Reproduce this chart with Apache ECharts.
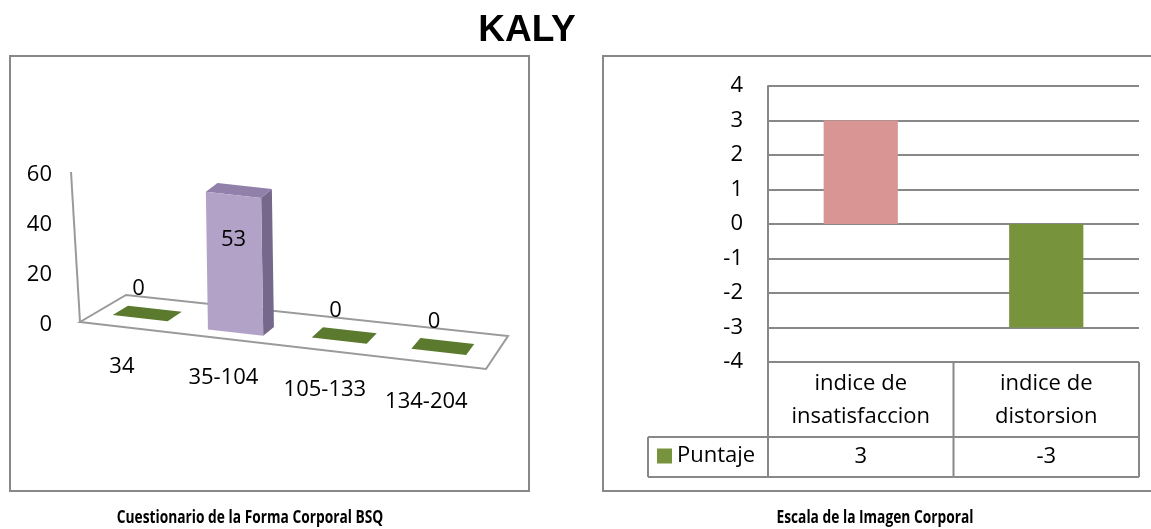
<!DOCTYPE html>
<html>
<head>
<meta charset="utf-8">
<script src="https://cdn.jsdelivr.net/npm/echarts@6/dist/echarts.min.js"></script>
<style>
html,body{margin:0;padding:0;background:#fff;}
#c{width:1151px;height:529px;}
</style>
</head>
<body>
<div id="c"></div>
<script>
// ---- data ----
const titleText = 'KALY';
const catsL = ['34', '35-104', '105-133', '134-204'];
const valsL = [0, 53, 0, 0];
const ticksL = [0, 20, 40, 60];
const captionL = 'Cuestionario de la Forma Corporal BSQ';

const catsR = ['indice de\ninsatisfaccion', 'indice de\ndistorsion'];
const valsR = [3, -3];
const ticksR = [-4, -3, -2, -1, 0, 1, 2, 3, 4];
const seriesR = 'Puntaje';
const captionR = 'Escala de la Imagen Corporal';

// ---- styles ----
const FONT = '"Open Sans", "Noto Sans", sans-serif';
const GRAY = '#888888';
const PURPLE_FRONT = '#B3A2C7', PURPLE_SIDE = '#75688A', PURPLE_TOP = '#9080AA';
const GREEN_FLAT = '#5B7A2E';
const PINK = '#D99594', GREEN = '#77933C';

const chart = echarts.init(document.getElementById('c'), null, {renderer: 'canvas'});

// floor projection for the pseudo-3D panel (layout relative to grid rect)
function floorPt(rect, u, d) {
  const x = rect.x, b = rect.y + rect.height, W = rect.width;
  const fx = x + W * u, fy = b - 3 + 0.1158 * W * u;
  const bx = x + 0.1133 * W + 0.9409 * W * u, by = b - 30 + 0.101 * W * u;
  return [fx + (bx - fx) * d, fy + (by - fy) * d];
}
function up(p, h, lean) { return [p[0] - h * lean, p[1] - h]; }

function renderDecor(params, api) {
  const rect = params.coordSys;
  const p00 = floorPt(rect, 0, 0), p10 = floorPt(rect, 1, 0), p11 = floorPt(rect, 1, 1), p01 = floorPt(rect, 0, 1);
  const hAxis = api.size([0, ticksL[ticksL.length - 1]])[1];
  const top = up(p00, hAxis, 0.06);
  return {
    type: 'group',
    children: [
      {type: 'polygon', shape: {points: [p00, p10, p11, p01]}, style: {fill: 'none', stroke: '#9a9a9a', lineWidth: 2}},
      {type: 'line', shape: {x1: p00[0], y1: p00[1], x2: top[0], y2: top[1]}, style: {stroke: '#9a9a9a', lineWidth: 2}}
    ]
  };
}

function renderBars3D(params, api) {
  const rect = params.coordSys;
  const i = api.value(0), v = api.value(1);
  const uc = (api.coord([i, 0])[0] - rect.x) / rect.width - 0.012;
  const hw = 0.069;
  const children = [];
  const baseC = floorPt(rect, uc, 0);
  if (v > 0) {
    const d0 = 0.22, d1 = 0.52, lean = 0.015;
    const h = api.size([0, v])[1] * 1.04;
    const a = floorPt(rect, uc - hw, d0), b = floorPt(rect, uc + hw, d0);
    const c = floorPt(rect, uc + hw, d1), dd = floorPt(rect, uc - hw, d1);
    const at = up(a, h, lean), bt = up(b, h, lean), ct = up(c, h, lean), dt = up(dd, h, lean);
    children.push({type: 'polygon', shape: {points: [b, c, ct, bt]}, style: {fill: PURPLE_SIDE}});
    children.push({type: 'polygon', shape: {points: [at, bt, ct, dt]}, style: {fill: PURPLE_TOP}});
    children.push({type: 'polygon', shape: {points: [a, b, bt, at]}, style: {fill: PURPLE_FRONT}});
    children.push({type: 'text', style: {text: String(v), x: (at[0] + bt[0]) / 2, y: (at[1] + bt[1]) / 2 + 45,
      align: 'center', verticalAlign: 'middle', font: '22px ' + FONT, fill: '#000'}});
  } else {
    const d0 = 0.33, d1 = 0.67;
    const a = floorPt(rect, uc - hw, d0), b = floorPt(rect, uc + hw, d0);
    const c = floorPt(rect, uc + hw, d1), dd = floorPt(rect, uc - hw, d1);
    children.push({type: 'polygon', shape: {points: [a, b, c, dd]}, style: {fill: GREEN_FLAT}});
    const m = floorPt(rect, uc, 0.5);
    children.push({type: 'text', style: {text: String(v), x: m[0] - 9, y: m[1] - 25,
      align: 'center', verticalAlign: 'middle', font: '22px ' + FONT, fill: '#000'}});
  }
  children.push({type: 'text', style: {text: catsL[i], x: baseC[0] - 4, y: baseC[1] + 39,
    align: 'center', verticalAlign: 'middle', font: '22px ' + FONT, fill: '#000'}});
  return {type: 'group', children: children};
}

function renderTable(params, api) {
  const i = api.value(0), v = api.value(1);
  const c = api.coord([i, ticksR[0]]);
  const band = api.size([1, 0])[0];
  const left = c[0] - band / 2, right = c[0] + band / 2, top = c[1];
  const r1 = top + 75, r2 = top + 115;
  const ls = {stroke: GRAY, lineWidth: 2};
  const ch = [
    {type: 'line', shape: {x1: right, y1: top, x2: right, y2: r2}, style: ls},
    {type: 'line', shape: {x1: left, y1: r1, x2: right, y2: r1}, style: ls},
    {type: 'line', shape: {x1: left, y1: r2, x2: right, y2: r2}, style: ls},
    {type: 'text', style: {text: String(v), x: c[0], y: (r1 + r2) / 2, align: 'center', verticalAlign: 'middle',
      font: '22px ' + FONT, fill: '#000'}}
  ];
  if (i === 0) {
    const lx = left - 120;
    ch.push({type: 'line', shape: {x1: left, y1: top, x2: left, y2: r2}, style: ls});
    ch.push({type: 'line', shape: {x1: lx, y1: r1, x2: left, y2: r1}, style: ls});
    ch.push({type: 'line', shape: {x1: lx, y1: r2, x2: left, y2: r2}, style: ls});
    ch.push({type: 'line', shape: {x1: lx, y1: r1, x2: lx, y2: r2}, style: ls});
  }
  return {type: 'group', children: ch};
}

const CAPTION_FONT = 'bold 17px "Open Sans", "Noto Sans", sans-serif';

const option = {
  animation: false,
  backgroundColor: '#fff',
  graphic: [
    {type: 'rect', shape: {x: 10, y: 56, width: 519, height: 435}, style: {fill: 'none', stroke: GRAY, lineWidth: 2}, z: -10},
    {type: 'rect', shape: {x: 603, y: 56, width: 600, height: 435}, style: {fill: 'none', stroke: GRAY, lineWidth: 2}, z: -10},
    {type: 'text', style: {text: titleText, x: 527, y: 31, align: 'center', verticalAlign: 'middle',
      font: 'bold 37px "Liberation Sans", Arial, sans-serif', fill: '#000'}},
    {type: 'text', x: 250, y: 518, scaleX: 0.81, style: {text: captionL, x: 0, y: 0, align: 'center', verticalAlign: 'middle',
      font: CAPTION_FONT, fill: '#000'}},
    {type: 'text', x: 875, y: 518, scaleX: 0.81, style: {text: captionR, x: 0, y: 0, align: 'center', verticalAlign: 'middle',
      font: CAPTION_FONT, fill: '#000'}}
  ],
  legend: {
    data: [seriesR], left: 657, top: 445, padding: 0, itemWidth: 15, itemHeight: 15, icon: 'rect',
    textStyle: {fontSize: 22, fontFamily: FONT, color: '#000'}
  },
  grid: [
    {left: 80, top: 175, width: 406, height: 150},
    {left: 768, top: 86, right: 12, height: 276}
  ],
  xAxis: [
    {gridIndex: 0, type: 'category', data: catsL, show: false},
    {gridIndex: 1, type: 'category', data: catsR,
      axisLine: {show: false, onZero: false}, axisTick: {show: false},
      axisLabel: {interval: 0, fontSize: 22, fontFamily: FONT, color: '#000', lineHeight: 33, margin: 5}}
  ],
  yAxis: [
    {gridIndex: 0, type: 'value', min: ticksL[0], max: ticksL[ticksL.length - 1], interval: ticksL[1] - ticksL[0],
      axisLine: {show: false}, axisTick: {show: false}, splitLine: {show: false},
      axisLabel: {fontSize: 22, fontFamily: FONT, color: '#000', margin: 28}},
    {gridIndex: 1, type: 'value', min: ticksR[0], max: ticksR[ticksR.length - 1], interval: ticksR[1] - ticksR[0],
      axisLine: {show: true, lineStyle: {color: GRAY, width: 2}}, axisTick: {show: false},
      splitLine: {show: true, lineStyle: {color: GRAY, width: 2}},
      axisLabel: {fontSize: 22, fontFamily: FONT, color: '#000', margin: 25}}
  ],
  series: [
    {type: 'custom', name: 'floor', xAxisIndex: 0, yAxisIndex: 0, data: [[0, 0]], renderItem: renderDecor, z: 1, silent: true},
    {type: 'custom', name: 'bsq', xAxisIndex: 0, yAxisIndex: 0, data: valsL.map((v, i) => [i, v]),
      encode: {x: 0, y: 1}, renderItem: renderBars3D, z: 2},
    {type: 'bar', name: seriesR, xAxisIndex: 1, yAxisIndex: 1, barWidth: '40%',
      itemStyle: {color: GREEN},
      data: valsR.map((v) => (v > 0 ? {value: v, itemStyle: {color: PINK}} : v)), z: 3},
    {type: 'custom', name: 'table', xAxisIndex: 1, yAxisIndex: 1, data: valsR.map((v, i) => [i, v]),
      encode: {x: 0, y: 1}, renderItem: renderTable, z: 4, silent: true}
  ]
};
chart.setOption(option);
</script>
</body>
</html>
